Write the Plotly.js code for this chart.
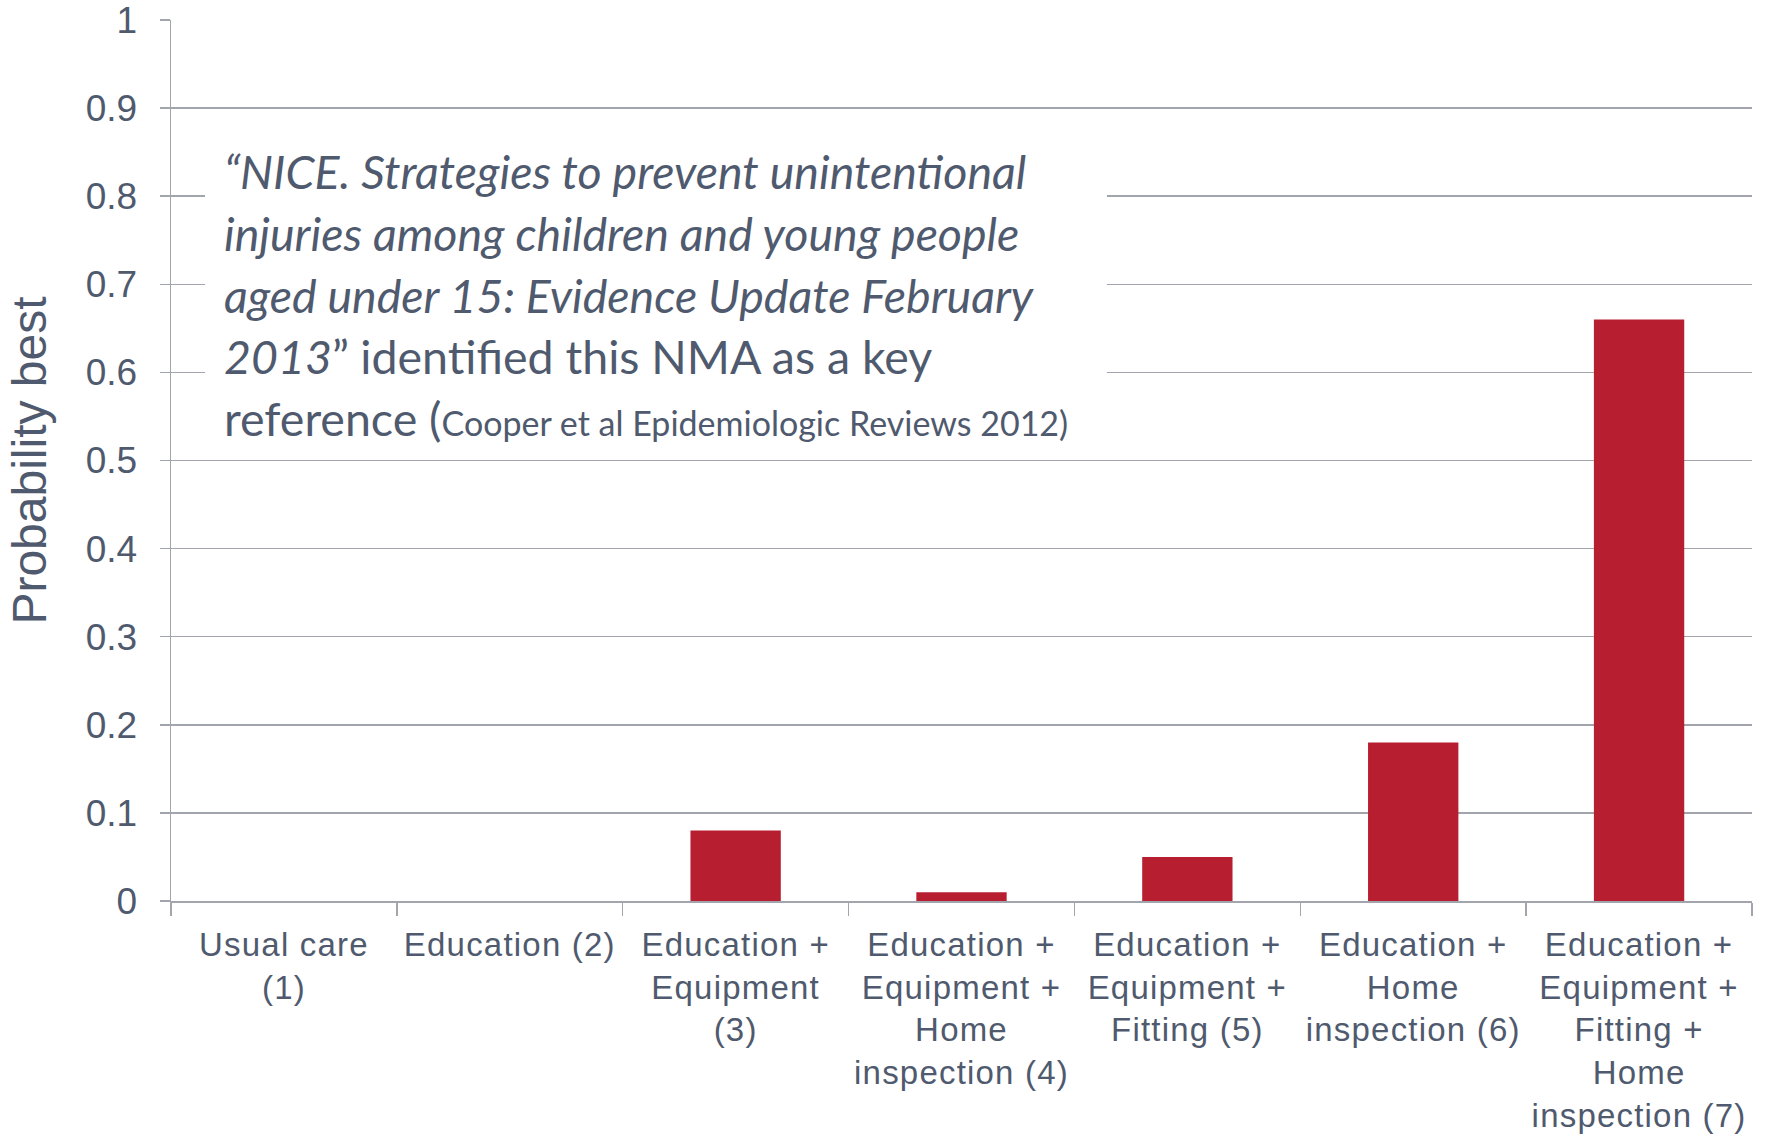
<!DOCTYPE html>
<html>
<head>
<meta charset="utf-8">
<script src="https://cdn.plot.ly/plotly-3.0.1.min.js"></script>
<style>
html,body{margin:0;padding:0;background:#fff;}
#chart{width:1765px;height:1138px;}
#chart .xtick text{letter-spacing:1.2px;}
</style>
</head>
<body>
<div id="chart"></div>
<script>
const categories = [
  "Usual care<br>(1)",
  "Education (2)",
  "Education +<br>Equipment<br>(3)",
  "Education +<br>Equipment +<br>Home<br>inspection (4)",
  "Education +<br>Equipment +<br>Fitting (5)",
  "Education +<br>Home<br>inspection (6)",
  "Education +<br>Equipment +<br>Fitting +<br>Home<br>inspection (7)"
];
const probabilityBest = [0, 0, 0.08, 0.01, 0.05, 0.18, 0.66];
const yTickValues = [0, 0.1, 0.2, 0.3, 0.4, 0.5, 0.6, 0.7, 0.8, 0.9, 1];
const yTickLabels = ["0", "0.1", "0.2", "0.3", "0.4", "0.5", "0.6", "0.7", "0.8", "0.9", "1"];
const yAxisTitle = "Probability best";
const noteLines = [
  "<i>\u201cNICE. Strategies to prevent unintentional</i>",
  "<i>injuries among children and young people</i>",
  "<i>aged under 15: Evidence Update February</i>",
  "<i>2013</i>\u201d identified this NMA as a key",
  "reference (<span style=\"font-size:34px\">Cooper et al Epidemiologic Reviews 2012)</span>"
];

const textColor = "#4F5A6E";
const gridColor = "#A3A5AD";
const noteY = [0.8286, 0.758, 0.688, 0.619, 0.548];

const annotations = noteLines.map((t, i) => ({
  text: t, xref: "paper", yref: "paper", x: 0.0323, y: noteY[i],
  xanchor: "left", yanchor: "middle", showarrow: false, align: "left",
  font: {family: "Lato, 'Open Sans', sans-serif", size: 46.5, color: textColor}
}));

const data = [{
  type: "bar",
  x: categories,
  y: probabilityBest,
  width: 0.4,
  marker: {color: "#B71F30"},
  hoverinfo: "skip"
}];

const layout = {
  width: 1765, height: 1138,
  margin: {l: 171, r: 13, t: 20, b: 237},
  paper_bgcolor: "#ffffff", plot_bgcolor: "#ffffff",
  showlegend: false,
  font: {family: "'Liberation Sans', Arial, sans-serif", color: textColor},
  xaxis: {
    type: "category",
    tickson: "boundaries",
    ticks: "outside", ticklen: 13, tickwidth: 1.5, tickcolor: gridColor,
    showline: true, linecolor: gridColor, linewidth: 2,
    showgrid: false,
    tickfont: {size: 33, color: textColor},
    tickangle: 0,
    ticklabelstandoff: 13,
    ticklabeloverflow: "allow",
    automargin: false
  },
  yaxis: {
    range: [0, 1],
    tickvals: yTickValues, ticktext: yTickLabels,
    ticks: "outside", ticklen: 10, tickwidth: 1.5, tickcolor: gridColor,
    showline: true, linecolor: gridColor, linewidth: 1.5,
    showgrid: true, gridcolor: gridColor, gridwidth: 1.5,
    zeroline: false,
    tickfont: {size: 37, color: textColor},
    ticklabelstandoff: 15,
    ticklabeloverflow: "allow",
    title: {text: yAxisTitle, font: {size: 48, color: textColor}, standoff: 24},
    automargin: false
  },
  shapes: [{
    type: "rect", xref: "paper", yref: "paper",
    x0: 0.0215, x1: 0.592, y0: 0.52, y1: 0.86,
    fillcolor: "#ffffff", line: {width: 0}, layer: "above"
  }],
  annotations: annotations
};

Plotly.newPlot("chart", data, layout, {displayModeBar: false, staticPlot: true});
</script>
</body>
</html>
